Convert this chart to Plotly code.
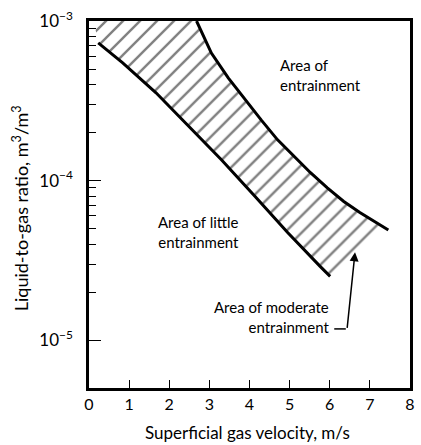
import plotly.graph_objects as go

# ---- data ----
upper_x = [2.68, 3.05, 3.47, 3.89, 4.29, 4.70, 5.12, 5.52, 5.94, 6.35, 6.75, 7.46]
upper_y = [1.0e-3, 6.3e-4, 4.4e-4, 3.2e-4, 2.4e-4, 1.8e-4, 1.41e-4, 1.12e-4, 9.0e-5, 7.4e-5, 6.3e-5, 4.9e-5]
lower_x = [0.23, 0.84, 1.67, 2.49, 3.30, 4.14, 4.95, 5.76, 6.01]
lower_y = [7.3e-4, 5.46e-4, 3.55e-4, 2.18e-4, 1.35e-4, 7.94e-5, 4.73e-5, 2.9e-5, 2.51e-5]
hatch_end_x = 7.24          # where the hatching meets the upper curve
hatch_end_y = 5.2e-5
top_left_x = 0.12           # hatch corner on the top border
top_y = 1.0e-3

x_ticks = [0, 1, 2, 3, 4, 5, 6, 7, 8]
y_major = [1e-5, 1e-4, 1e-3]
y_major_text = ["10<sup>\u22125</sup>", "10<sup>\u22124</sup>", "10<sup>\u22123</sup>"]
y_minor = [m * 10 ** e for e in (-5, -4) for m in range(2, 10)]

x_title = "Superficial gas velocity, m/s"
y_title = "Liquid-to-gas ratio, m<sup>3</sup>/m<sup>3</sup>"

FONT = "Lato"

# polygon of the hatched (moderate entrainment) band
up_part = [(x, y) for x, y in zip(upper_x, upper_y) if x < hatch_end_x][::-1]
poly_x = lower_x + [hatch_end_x] + [p[0] for p in up_part] + [top_left_x]
poly_y = lower_y + [hatch_end_y] + [p[1] for p in up_part] + [top_y]

fig = go.Figure()
fig.add_trace(go.Scatter(
    x=poly_x, y=poly_y, mode="lines", fill="toself",
    line=dict(width=0, color="rgba(0,0,0,0)"),
    fillcolor="white",
    fillpattern=dict(shape="/", size=12, solidity=0.2, fgcolor="black", bgcolor="white"),
    hoverinfo="skip", showlegend=False))
fig.add_trace(go.Scatter(x=upper_x, y=upper_y, mode="lines",
                         line=dict(color="black", width=3), showlegend=False))
fig.add_trace(go.Scatter(x=lower_x, y=lower_y, mode="lines",
                         line=dict(color="black", width=3), showlegend=False))

txt = dict(family=FONT, size=15, color="black")
fig.add_annotation(x=4.72, y=-3.3375, xref="x", yref="y", text="Area of<br>entrainment",
                   showarrow=False, xanchor="left", yanchor="middle", align="left", font=txt)
fig.add_annotation(x=3.80, y=-4.325, xref="x", yref="y", text="Area of little<br>entrainment",
                   showarrow=False, xanchor="right", yanchor="middle", align="right", font=txt)
fig.add_annotation(x=6.02, y=-4.856, xref="x", yref="y", text="Area of moderate<br>entrainment",
                   showarrow=False, xanchor="right", yanchor="middle", align="right", font=txt)
# leader arrow
fig.add_annotation(x=6.63, y=-4.45, xref="x", yref="y", ax=-8, ay=77, text="",
                   showarrow=True, arrowhead=2, arrowsize=1.2, arrowwidth=1.5, arrowcolor="black")
fig.add_shape(type="line", xref="paper", yref="paper", x0=0.764, x1=0.80, y0=0.161, y1=0.161,
              line=dict(color="black", width=1.5))

# axis titles
fig.add_annotation(x=0.494, y=-0.1226, xref="paper", yref="paper", text=x_title, showarrow=False,
                   xanchor="center", yanchor="middle", font=dict(family=FONT, size=17, color="black"))
fig.add_annotation(x=-0.2117, y=0.49, xref="paper", yref="paper", text=y_title, showarrow=False,
                   textangle=-90, xanchor="center", yanchor="middle",
                   font=dict(family=FONT, size=18, color="black"))

fig.update_xaxes(range=[0, 8.0], tickmode="array", tickvals=x_ticks, ticks="inside", ticklen=8,
                 tickwidth=1.2, tickcolor="black", showline=True, linecolor="black", linewidth=2.5,
                 mirror=True, showgrid=False, zeroline=False, ticklabeloverflow="allow",
                 tickfont=dict(family=FONT, size=16, color="black"))
fig.update_yaxes(type="log", range=[-5.3, -3], tickmode="array", tickvals=y_major, ticktext=y_major_text,
                 ticks="inside", ticklen=12, tickwidth=1.2, tickcolor="black",
                 minor=dict(tickmode="array", tickvals=y_minor, ticks="inside", ticklen=7,
                            tickwidth=1, tickcolor="black", showgrid=False),
                 showline=True, linecolor="black", linewidth=2.5, mirror=True, showgrid=False,
                 zeroline=False, ticklabelstandoff=10, ticklabeloverflow="allow",
                 tickfont=dict(family=FONT, size=17, color="black"))

fig.update_layout(width=421, height=445, margin=dict(l=89, r=6, t=21, b=57),
                  plot_bgcolor="white", paper_bgcolor="white", showlegend=False)

fig.write_html("out.html", config={"displayModeBar": False},
               post_script="document.body.style.margin='0';document.body.style.overflow='hidden';")
